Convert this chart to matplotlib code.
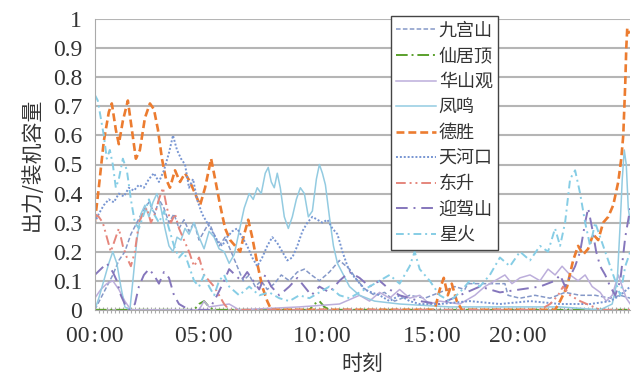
import matplotlib
matplotlib.use("Agg")
import matplotlib.pyplot as plt
from matplotlib.ticker import MultipleLocator

CJK = ["Noto Sans CJK SC", "DejaVu Sans"]
SERIF = ["Liberation Serif", "DejaVu Serif"]

# x = sample index along the category axis, y = output / installed capacity
jiugongshan = [(0, 0.0), (6, 0.04), (12, 0.08), (18, 0.12), (24, 0.17), (30, 0.20), (36, 0.26), (42, 0.30),
               (48, 0.34), (54, 0.37), (60, 0.33), (64, 0.38), (69, 0.35), (74, 0.30), (79, 0.33), (84, 0.28),
               (89, 0.31), (94, 0.27), (99, 0.30), (104, 0.24), (109, 0.27), (114, 0.30), (119, 0.26), (124, 0.22),
               (130, 0.25), (136, 0.20), (142, 0.15), (148, 0.10), (154, 0.12), (160, 0.08), (166, 0.10), (172, 0.07),
               (179, 0.09), (186, 0.12), (194, 0.10), (202, 0.13), (209, 0.14), (216, 0.12), (224, 0.10), (234, 0.13),
               (244, 0.17), (254, 0.14), (262, 0.10), (270, 0.07), (279, 0.05), (289, 0.06), (299, 0.03), (314, 0.05),
               (329, 0.04), (344, 0.06), (359, 0.08), (369, 0.07), (372, 0.09), (384, 0.09), (399, 0.09), (409, 0.09),
               (412, 0.05), (424, 0.04), (439, 0.05), (454, 0.04), (469, 0.06), (484, 0.05), (499, 0.05), (514, 0.04),
               (524, 0.05), (534, 0.04)]
xianjuding = [(0, 0.0), (99, 0.0), (104, 0.02), (109, 0.03), (114, 0.01), (119, 0.0), (214, 0.0), (219, 0.02),
              (224, 0.03), (229, 0.01), (234, 0.0), (534, 0.0)]
huashanguan = [(0, 0.04), (6, 0.07), (12, 0.09), (18, 0.10), (24, 0.07), (30, 0.03), (36, 0.0), (104, 0.0),
               (109, 0.03), (114, 0.01), (134, 0.02), (144, 0.0), (204, 0.01), (244, 0.02), (264, 0.05), (274, 0.03),
               (284, 0.06), (294, 0.04), (304, 0.07), (314, 0.04), (324, 0.05), (334, 0.02), (344, 0.03), (364, 0.02),
               (379, 0.05), (389, 0.08), (399, 0.10), (409, 0.12), (416, 0.09), (424, 0.11), (434, 0.12), (444, 0.10),
               (452, 0.14), (459, 0.12), (466, 0.15), (474, 0.12), (482, 0.10), (489, 0.12), (496, 0.08), (504, 0.06),
               (510, 0.03), (516, 0.05), (522, 0.12), (526, 0.08), (530, 0.04), (534, 0.02)]
fengming = [(0, 0.0), (4, 0.04), (9, 0.1), (14, 0.16), (18, 0.2), (22, 0.16), (26, 0.08), (30, 0.01), (35, 0.0),
            (38, 0.1), (42, 0.24), (46, 0.33), (50, 0.36), (54, 0.32), (58, 0.37), (62, 0.40), (66, 0.35), (70, 0.28),
            (74, 0.22), (78, 0.20), (82, 0.25), (86, 0.24), (90, 0.28), (94, 0.26), (99, 0.30), (104, 0.25),
            (109, 0.21), (114, 0.27), (119, 0.25), (124, 0.21), (129, 0.20), (134, 0.16), (139, 0.19), (144, 0.27),
            (149, 0.35), (154, 0.40), (158, 0.38), (162, 0.42), (166, 0.40), (170, 0.47), (173, 0.49), (176, 0.44),
            (179, 0.42), (182, 0.47), (185, 0.42), (189, 0.32), (193, 0.28), (197, 0.32), (201, 0.38), (205, 0.42),
            (209, 0.40), (213, 0.32), (217, 0.34), (221, 0.45), (224, 0.50), (227, 0.47), (230, 0.43), (234, 0.32),
            (238, 0.22), (242, 0.16), (248, 0.12), (254, 0.08), (264, 0.05), (279, 0.03), (304, 0.02), (354, 0.01),
            (464, 0.01), (504, 0.0), (516, 0.02), (521, 0.1), (524, 0.3), (526, 0.45), (528, 0.55), (530, 0.5),
            (532, 0.35), (534, 0.3)]
desheng = [(0, 0.30), (4, 0.42), (9, 0.58), (14, 0.68), (17, 0.71), (21, 0.62), (24, 0.57), (28, 0.65), (33, 0.72),
           (37, 0.62), (41, 0.52), (45, 0.55), (50, 0.66), (55, 0.71), (59, 0.69), (63, 0.62), (67, 0.52), (71, 0.45),
           (75, 0.42), (80, 0.48), (85, 0.44), (90, 0.47), (95, 0.44), (100, 0.40), (105, 0.36), (110, 0.42),
           (116, 0.52), (120, 0.45), (125, 0.36), (130, 0.28), (135, 0.24), (140, 0.22), (145, 0.20), (149, 0.26),
           (153, 0.31), (157, 0.25), (162, 0.16), (167, 0.08), (172, 0.03), (176, 0.0), (339, 0.0), (344, 0.07),
           (348, 0.11), (352, 0.05), (356, 0.09), (361, 0.03), (366, 0.0), (459, 0.0), (464, 0.03), (471, 0.08),
           (477, 0.17), (482, 0.22), (487, 0.19), (492, 0.21), (497, 0.26), (502, 0.24), (507, 0.30), (512, 0.32),
           (517, 0.36), (522, 0.44), (525, 0.52), (527, 0.60), (529, 0.78), (530, 0.90), (531, 0.97), (533, 0.95)]
tianhekou = [(0, 0.30), (4, 0.33), (9, 0.36), (14, 0.38), (19, 0.37), (24, 0.40), (29, 0.39), (34, 0.42), (39, 0.41),
             (44, 0.43), (49, 0.42), (54, 0.45), (59, 0.47), (64, 0.44), (69, 0.48), (74, 0.54), (78, 0.60),
             (82, 0.55), (86, 0.52), (90, 0.50), (94, 0.42), (98, 0.45), (102, 0.38), (107, 0.33), (112, 0.30),
             (117, 0.27), (122, 0.24), (127, 0.22), (132, 0.25), (137, 0.27), (142, 0.28), (147, 0.25), (152, 0.22),
             (157, 0.18), (162, 0.15), (167, 0.18), (172, 0.22), (177, 0.25), (182, 0.23), (187, 0.20), (192, 0.17),
             (197, 0.18), (202, 0.22), (207, 0.27), (212, 0.30), (217, 0.32), (222, 0.31), (227, 0.30), (232, 0.31),
             (237, 0.28), (242, 0.26), (247, 0.20), (252, 0.15), (257, 0.12), (262, 0.10), (269, 0.07), (276, 0.06),
             (284, 0.05), (294, 0.03), (304, 0.05), (314, 0.03), (324, 0.02), (344, 0.02), (374, 0.03), (404, 0.02),
             (434, 0.03), (464, 0.02), (494, 0.02), (514, 0.03), (524, 0.05), (534, 0.08)]
dongsheng = [(0, 0.33), (4, 0.32), (8, 0.30), (12, 0.25), (16, 0.20), (20, 0.24), (24, 0.28), (28, 0.22), (32, 0.18),
             (36, 0.15), (40, 0.20), (44, 0.30), (48, 0.33), (52, 0.35), (56, 0.30), (60, 0.33), (64, 0.38),
             (68, 0.42), (72, 0.35), (76, 0.30), (80, 0.33), (84, 0.28), (89, 0.24), (94, 0.20), (99, 0.15),
             (104, 0.18), (109, 0.12), (114, 0.10), (119, 0.08), (124, 0.05), (129, 0.02), (134, 0.0), (444, 0.0),
             (454, 0.02), (462, 0.05), (467, 0.08), (474, 0.05), (484, 0.03), (504, 0.0), (534, 0.0)]
yingjiashan = [(0, 0.12), (6, 0.14), (12, 0.16), (18, 0.13), (22, 0.10), (26, 0.05), (30, 0.02), (34, 0.0),
               (40, 0.02), (44, 0.08), (49, 0.12), (54, 0.14), (59, 0.12), (64, 0.09), (69, 0.13), (74, 0.11),
               (79, 0.05), (84, 0.02), (94, 0.0), (114, 0.0), (122, 0.05), (129, 0.10), (134, 0.14), (140, 0.12),
               (146, 0.10), (152, 0.13), (158, 0.10), (164, 0.07), (170, 0.12), (176, 0.08), (184, 0.05), (194, 0.08),
               (202, 0.11), (209, 0.08), (216, 0.05), (224, 0.08), (234, 0.06), (244, 0.10), (254, 0.13), (264, 0.11),
               (274, 0.08), (284, 0.10), (294, 0.07), (304, 0.05), (324, 0.03), (344, 0.02), (364, 0.05), (384, 0.08),
               (404, 0.06), (424, 0.07), (444, 0.08), (459, 0.10), (464, 0.12), (469, 0.08), (479, 0.15), (484, 0.20),
               (489, 0.30), (492, 0.35), (496, 0.28), (500, 0.20), (504, 0.15), (509, 0.12), (514, 0.08), (519, 0.05),
               (524, 0.10), (529, 0.25), (534, 0.35)]
xinghuo = [(0, 0.74), (3, 0.72), (6, 0.66), (9, 0.60), (12, 0.52), (15, 0.55), (18, 0.50), (21, 0.42), (24, 0.45),
           (28, 0.52), (32, 0.48), (36, 0.38), (40, 0.30), (44, 0.28), (49, 0.33), (54, 0.38), (59, 0.33), (64, 0.30),
           (69, 0.34), (74, 0.28), (79, 0.22), (84, 0.18), (89, 0.20), (94, 0.15), (99, 0.10), (104, 0.08),
           (109, 0.12), (114, 0.08), (119, 0.05), (124, 0.10), (129, 0.12), (134, 0.08), (144, 0.05), (154, 0.08),
           (164, 0.05), (174, 0.06), (184, 0.04), (194, 0.03), (204, 0.05), (214, 0.04), (224, 0.06), (234, 0.08),
           (244, 0.05), (254, 0.04), (264, 0.06), (274, 0.08), (284, 0.10), (294, 0.12), (304, 0.09), (314, 0.15),
           (319, 0.20), (324, 0.14), (334, 0.10), (344, 0.05), (354, 0.03), (364, 0.06), (374, 0.10), (384, 0.08),
           (394, 0.12), (404, 0.18), (414, 0.15), (424, 0.20), (434, 0.17), (444, 0.22), (452, 0.20), (459, 0.28),
           (464, 0.22), (469, 0.30), (474, 0.45), (479, 0.48), (484, 0.40), (489, 0.30), (494, 0.22), (499, 0.30),
           (504, 0.25), (509, 0.20), (514, 0.15), (519, 0.10), (524, 0.05), (529, 0.15), (534, 0.20)]

tick_idx = [0, 109, 226, 336, 422]
tick_labels = ["00:00", "05:00", "10:00", "15:00", "20:00"]

series = [
    ("九宫山", jiugongshan, "#8598c8", (3, 1.5), 1.1),
    ("仙居顶", xianjuding, "#5aa02c", (6, 2, 1, 2), 1.4),
    ("华山观", huashanguan, "#bcaedb", None, 1.1),
    ("凤鸣", fengming, "#93cbe1", None, 1.1),
    ("德胜", desheng, "#ec7c30", (3, 1.5), 1.9),
    ("天河口", tianhekou, "#7795d2", (1, 1), 1.4),
    ("东升", dongsheng, "#e5867c", (5, 2, 1, 2, 1, 2), 1.4),
    ("迎驾山", yingjiashan, "#8576bc", (6, 3, 1, 3), 1.4),
    ("星火", xinghuo, "#86cde5", (4, 2, 1, 2), 1.4),
]

fig = plt.figure(figsize=(6.36, 3.76), dpi=100)
ax = fig.add_axes([0.149, 0.176, 0.842, 0.773])

for name, pts, color, dash, lw in series:
    xs, ys = zip(*pts)
    line, = ax.plot(xs, ys, color=color, lw=lw, label=name)
    if dash:
        line.set_dashes(dash)

ax.set_xlim(0, 534)
ax.set_ylim(0, 1)
ax.set_yticks([i / 10 for i in range(11)])
ax.set_yticklabels(["0"] + [f"{i / 10:.1f}" for i in range(1, 10)] + ["1"],
                   family=SERIF, fontsize=17, color="#333333")
ax.set_xticks(tick_idx)
ax.set_xticklabels([t.replace(":", "\u200a:\u200a") for t in tick_labels],
                   family=SERIF, fontsize=17, color="#333333")
ax.xaxis.set_minor_locator(MultipleLocator(4))
ax.tick_params(axis="y", length=0, pad=9)
ax.tick_params(axis="x", which="major", length=0, pad=12)
ax.tick_params(axis="x", which="minor", direction="inout", length=5, width=0.8, color="#aaaaaa")

ax.grid(axis="y", color="#b5b5b5", lw=1.5)
ax.set_axisbelow(True)
for s in ["top", "right"]:
    ax.spines[s].set_visible(False)
ax.spines["left"].set_color("#aaaaaa")
ax.spines["bottom"].set_color("#aaaaaa")

ax.set_ylabel("出力/装机容量", family=CJK, fontsize=15, color="#333333", labelpad=7)
ax.set_xlabel("时刻", family=CJK, fontsize=15, color="#333333", labelpad=4)

leg = ax.legend(loc="upper left", bbox_to_anchor=(0.553, 1.01), prop={"family": CJK, "size": 13},
                frameon=True, fancybox=False, framealpha=1, edgecolor="#444444",
                handlelength=2.2, handletextpad=0.15, labelspacing=0.42, borderpad=0.3, borderaxespad=0)
leg.get_frame().set_linewidth(1.0)
for t in leg.get_texts():
    t.set_color("#333333")

fig.savefig("out.png", dpi=100)
